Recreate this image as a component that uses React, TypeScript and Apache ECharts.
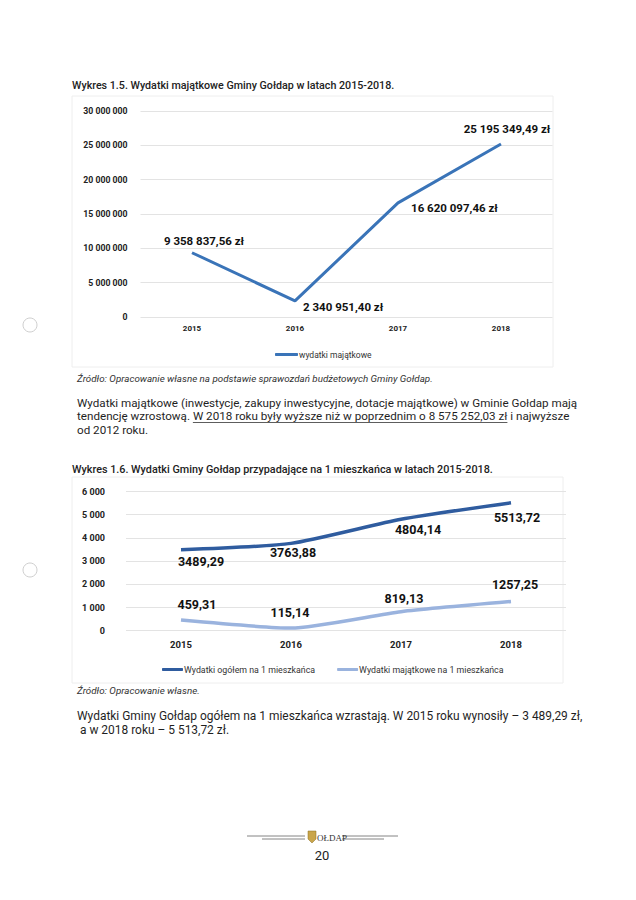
import React, { useEffect, useRef } from "react";
import * as echarts from "echarts";

const years = ["2015", "2016", "2017", "2018"];
const wydatkiMajatkowe = [9358837.56, 2340951.4, 16620097.46, 25195349.49];
const ogolemNaMieszkanca = [3489.29, 3763.88, 4804.14, 5513.72];
const majatkoweNaMieszkanca = [459.31, 115.14, 819.13, 1257.25];

const title1 = "Wykres 1.5. Wydatki majątkowe Gminy Gołdap w latach 2015-2018.";
const title2 = "Wykres 1.6. Wydatki Gminy Gołdap przypadające na 1 mieszkańca w latach 2015-2018.";
const source1 = "Źródło: Opracowanie własne na podstawie sprawozdań budżetowych Gminy Gołdap.";
const source2 = "Źródło: Opracowanie własne.";
const para1 = "Wydatki majątkowe (inwestycje, zakupy inwestycyjne, dotacje majątkowe) w Gminie Gołdap mają";
const para1b = ["tendencję wzrostową. ", "W 2018 roku były wyższe niż w poprzednim o 8 575 252,03 zł", " i najwyższe"];
const para1c = "od 2012 roku.";
const para2 = [
  "Wydatki Gminy Gołdap ogółem na 1 mieszkańca wzrastają. W 2015 roku wynosiły – 3 489,29 zł,",
  " a w 2018 roku – 5 513,72 zł.",
];

const FONT = "Roboto, 'Open Sans', sans-serif";

function spaced(n: number): string {
  return String(Math.round(n)).replace(/\B(?=(\d{3})+(?!\d))/g, " ");
}
function money(n: number): string {
  const [i, d] = n.toFixed(2).split(".");
  return i.replace(/\B(?=(\d{3})+(?!\d))/g, " ") + "," + d + " zł";
}
function dec(n: number): string {
  return n.toFixed(2).replace(".", ",");
}

function measure(text: string, font: string): number {
  const c = document.createElement("canvas").getContext("2d")!;
  c.font = font;
  return c.measureText(text).width;
}

export default function App() {
  const ref = useRef<HTMLDivElement>(null);
  useEffect(() => {
    if (!ref.current) return;
    const chart = echarts.init(ref.current, null, { renderer: "svg" });

    const paraSize = 11.65;
    const para2Size = 11.95;
    const paraFont = `${paraSize}px ${FONT}`;
    const w1 = measure(para1b[0], paraFont);
    const w2 = measure(para1b[1], paraFont);

    const txt = (text: string, x: number, y: number, size: number, extra: any = {}) => ({
      type: "text",
      x,
      y,
      style: {
        text,
        fontSize: size,
        fontFamily: FONT,
        fill: "#1f1f1f",
        verticalAlign: "middle",
        ...extra,
      },
    });

    const labelStyle1 = { color: "#111", fontSize: 11.5, fontWeight: "bold", fontFamily: FONT };
    const pos1: any[] = [
      { position: "top", offset: [12, -1] },
      { position: "right", offset: [3, 6] },
      { position: "right", offset: [8, 5] },
      { position: "top", offset: [6, -4] },
    ];
    const posDark: any[] = [
      { position: "bottom", offset: [20, 0] },
      { position: "bottom", offset: [2, -2] },
      { position: "bottom", offset: [17, -1] },
      { position: "bottom", offset: [6, 3] },
    ];
    const posLight: any[] = [
      { position: "top", offset: [16, -4] },
      { position: "top", offset: [-1, -4] },
      { position: "top", offset: [3, -2] },
      { position: "top", offset: [4, -5] },
    ];
    const labelStyle2 = { color: "#111", fontSize: 12.5, fontWeight: "bold", fontFamily: FONT };

    const axisLabelY = { color: "#222", fontSize: 8.7, fontWeight: "bold", fontFamily: FONT, margin: 13 };

    const lineBase = {
      type: "line",
      showSymbol: true,
      symbol: "circle",
      symbolSize: 0.1,
    };

    chart.setOption({
      animation: false,
      backgroundColor: "#ffffff",
      grid: [
        { left: 140.5, width: 412, top: 111, height: 206 },
        { left: 126, width: 440, top: 491.5, height: 139.2 },
      ],
      xAxis: [
        {
          gridIndex: 0,
          type: "category",
          data: years,
          boundaryGap: true,
          axisLine: { show: false },
          axisTick: { show: false },
          axisLabel: { color: "#222", fontSize: 8, fontWeight: "bold", fontFamily: FONT, margin: 7 },
        },
        {
          gridIndex: 1,
          type: "category",
          data: years,
          boundaryGap: true,
          axisLine: { show: false },
          axisTick: { show: false },
          axisLabel: { color: "#222", fontSize: 9.5, fontWeight: "bold", fontFamily: FONT, margin: 9 },
        },
      ],
      yAxis: [
        {
          gridIndex: 0,
          type: "value",
          min: 0,
          max: 30000000,
          interval: 5000000,
          axisLabel: { ...axisLabelY, formatter: (v: number) => spaced(v) },
          splitLine: { lineStyle: { color: "#e3e3e3", width: 1 } },
        },
        {
          gridIndex: 1,
          type: "value",
          min: 0,
          max: 6000,
          interval: 1000,
          axisLabel: { ...axisLabelY, fontSize: 9, margin: 21, formatter: (v: number) => spaced(v) },
          splitLine: { lineStyle: { color: "#e3e3e3", width: 1 } },
        },
      ],
      legend: [
        {
          data: ["wydatki majątkowe"],
          left: 270,
          top: 345,
          itemWidth: 23,
          itemHeight: 3,
          icon: "roundRect",
          textStyle: { color: "#333", fontSize: 8.5, fontFamily: FONT, padding: [0, 0, 0, -4] },
        },
        {
          data: ["Wydatki ogółem na 1 mieszkańca", "Wydatki majątkowe na 1 mieszkańca"],
          left: 157,
          top: 660,
          itemWidth: 21,
          itemHeight: 3,
          itemGap: 22,
          icon: "roundRect",
          textStyle: { color: "#333", fontSize: 8.8, fontFamily: FONT, padding: [0, 0, 0, -4] },
        },
      ],
      series: [
        {
          ...lineBase,
          name: "wydatki majątkowe",
          xAxisIndex: 0,
          yAxisIndex: 0,
          lineStyle: { color: "#3A74B8", width: 3 },
          itemStyle: { color: "#3A74B8" },
          data: wydatkiMajatkowe.map((v, i) => ({
            value: v,
            label: { show: true, ...labelStyle1, ...pos1[i], formatter: () => money(v) },
          })),
        },
        {
          ...lineBase,
          name: "Wydatki ogółem na 1 mieszkańca",
          xAxisIndex: 1,
          yAxisIndex: 1,
          smooth: 0.2,
          lineStyle: { color: "#2F5C9F", width: 3.5 },
          itemStyle: { color: "#2F5C9F" },
          data: ogolemNaMieszkanca.map((v, i) => ({
            value: v,
            label: { show: true, ...labelStyle2, ...posDark[i], formatter: () => dec(v) },
          })),
        },
        {
          ...lineBase,
          name: "Wydatki majątkowe na 1 mieszkańca",
          xAxisIndex: 1,
          yAxisIndex: 1,
          smooth: 0.2,
          lineStyle: { color: "#9AB3DE", width: 3.5 },
          itemStyle: { color: "#9AB3DE" },
          data: majatkoweNaMieszkanca.map((v, i) => ({
            value: v,
            label: { show: true, ...labelStyle2, ...posLight[i], formatter: () => dec(v) },
          })),
        },
      ],
      graphic: [
        { type: "rect", shape: { x: 72, y: 96, width: 481, height: 271 }, style: { fill: "none", stroke: "#eeeeee", lineWidth: 1 }, z: -1 },
        { type: "rect", shape: { x: 72, y: 477, width: 491, height: 206 }, style: { fill: "none", stroke: "#eeeeee", lineWidth: 1 }, z: -1 },
        { type: "circle", shape: { cx: 30, cy: 325, r: 7 }, style: { fill: "none", stroke: "#cfcfcf", lineWidth: 1 } },
        { type: "circle", shape: { cx: 30, cy: 570, r: 7 }, style: { fill: "none", stroke: "#cfcfcf", lineWidth: 1 } },
        txt(title1, 72, 85.5, 10.7, { fontWeight: 500, fill: "#222" }),
        txt(source1, 77, 378, 9.8, { fontStyle: "italic", fill: "#333" }),
        txt(para1, 77, 402.5, paraSize),
        txt(para1b[0], 77, 416, paraSize),
        txt(para1b[1], 77 + w1, 416, paraSize),
        txt(para1b[2], 77 + w1 + w2, 416, paraSize),
        { type: "line", shape: { x1: 77 + w1, y1: 422.5, x2: 77 + w1 + w2, y2: 422.5 }, style: { stroke: "#333", lineWidth: 0.8 } },
        txt(para1c, 77, 429.5, paraSize),
        txt(title2, 72, 469.5, 10.8, { fontWeight: 500, fill: "#222" }),
        txt(source2, 77, 690.5, 9.8, { fontStyle: "italic", fill: "#333" }),
        txt(para2[0], 77, 716, para2Size),
        txt(para2[1], 77, 730, para2Size),
        // footer
        { type: "line", shape: { x1: 247, y1: 836, x2: 305, y2: 836 }, style: { stroke: "#666", lineWidth: 0.8 } },
        { type: "line", shape: { x1: 262, y1: 839, x2: 305, y2: 839 }, style: { stroke: "#666", lineWidth: 0.8 } },
        { type: "line", shape: { x1: 342, y1: 836, x2: 398, y2: 836 }, style: { stroke: "#666", lineWidth: 0.8 } },
        { type: "line", shape: { x1: 342, y1: 839, x2: 384, y2: 839 }, style: { stroke: "#666", lineWidth: 0.8 } },
        { type: "polygon", shape: { points: [[308, 831], [316, 831], [316, 839], [312, 843], [308, 839]] }, style: { fill: "#C9A54A", stroke: "#8a6d20", lineWidth: 0.5 } },
        txt("OŁDAP", 317, 837.5, 9, { fontFamily: "'Liberation Serif', serif", fill: "#333" }),
        txt("20", 322, 855, 13, { align: "center", fill: "#222" }),
      ],
    });
    return () => chart.dispose();
  }, []);
  return (
    <div
      ref={ref}
      style={{ position: "fixed", left: 0, top: 0, width: 636, height: 900, background: "#fff" }}
    />
  );
}
